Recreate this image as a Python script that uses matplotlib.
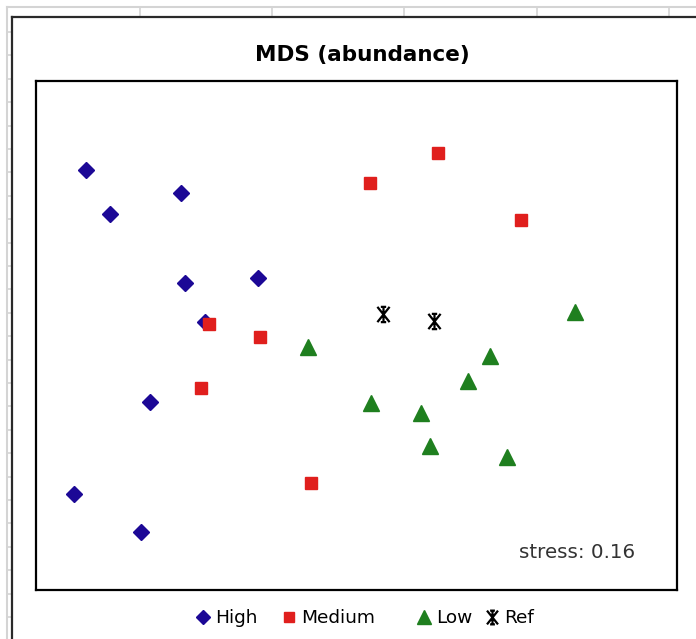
import matplotlib
matplotlib.use('Agg')
import matplotlib.pyplot as plt
from matplotlib.path import Path
from matplotlib.lines import Line2D

# MDS ordination scores for each site group (axis 1, axis 2)
high_x = [-1.266, -1.153, -0.821, -0.803, -0.461, -0.709, -0.966, -1.322, -1.008]
high_y = [0.774, 0.569, 0.667, 0.246, 0.269, 0.063, -0.311, -0.742, -0.920]

medium_x = [0.381, 0.063, 0.770, -0.690, -0.452, -0.728, -0.213]
medium_y = [0.854, 0.714, 0.540, 0.054, -0.007, -0.246, -0.690]

low_x = [1.022, -0.227, 0.625, 0.522, 0.068, 0.302, 0.344, 0.704]
low_y = [0.110, -0.054, -0.096, -0.213, -0.316, -0.363, -0.517, -0.569]

ref_x = [0.124, 0.363]
ref_y = [0.101, 0.068]

stress = 0.16

# excel style "star" marker: X + vertical bar with little caps
verts = [(-0.8, -1), (0.8, 1), (-0.8, 1), (0.8, -1), (0, -1), (0, 1),
         (-0.35, 1), (0.35, 1), (-0.35, -1), (0.35, -1)]
codes = [Path.MOVETO, Path.LINETO] * 5
star = Path(verts, codes)

W, H = 696, 639
fig = plt.figure(figsize=(W / 100, H / 100), dpi=100)

def fx(px):
    return px / W

def fy(py):
    return 1 - py / H

# spreadsheet grid behind the chart
grid = '#d4d4d4'
fig.add_artist(Line2D([fx(7), 1], [fy(7), fy(7)], color=grid, lw=1.5))
fig.add_artist(Line2D([fx(7), fx(7)], [fy(7), 0], color=grid, lw=1.5))
for gx in [140, 272, 404, 537, 669]:
    fig.add_artist(Line2D([fx(gx), fx(gx)], [fy(7), fy(17)], color=grid, lw=1.2))
gy = 32
while gy < H:
    fig.add_artist(Line2D([fx(7), fx(12)], [fy(gy), fy(gy)], color=grid, lw=1.2))
    gy += 23.4

# chart frame
fig.add_artist(Line2D([fx(12), 1], [fy(17), fy(17)], color='#2a2a2a', lw=1.6))
fig.add_artist(Line2D([fx(12), fx(12)], [fy(17), 0], color='#2a2a2a', lw=1.6))

ax = fig.add_axes([fx(36), fy(590), (677 - 36) / W, (590 - 81) / H])

h1, = ax.plot(high_x, high_y, 'D', color='#1c0896', ms=8, mec='#1c0896', ls='none', label='High')
h2, = ax.plot(medium_x, medium_y, 's', color='#e01f1d', ms=8.6, mec='#e01f1d', ls='none', label='Medium')
h3, = ax.plot(low_x, low_y, '^', color='#1f7f1f', ms=11, mec='#1f7f1f', ls='none', label='Low')
h4, = ax.plot(ref_x, ref_y, marker=star, color='black', ms=11, mew=1.6, ls='none', label='Ref')

ax.set_xlim(-1.5, 1.5)
ax.set_ylim(-1.191, 1.191)
ax.set_xticks([])
ax.set_yticks([])
for s in ax.spines.values():
    s.set_linewidth(1.6)
    s.set_color('black')

ax.text(0.934, 0.073, 'stress: %.2f' % stress, transform=ax.transAxes,
        ha='right', va='center', fontsize=14.3, color='#333333')

fig.text(fx(362), fy(55), 'MDS (abundance)', ha='center', va='center',
         fontsize=15.5, fontweight='bold', color='black')

# legend entries laid out one by one along the bottom
for h, px in zip([h1, h2, h3, h4], [201, 287, 422, 490]):
    fig.legend(handles=[h], loc='center left', bbox_to_anchor=(fx(px - 6), fy(618)),
               frameon=False, fontsize=13.3, handlelength=0.9, handletextpad=0.2,
               borderpad=0, borderaxespad=0, markerscale=0.9)

plt.savefig('out.png', dpi=100)
